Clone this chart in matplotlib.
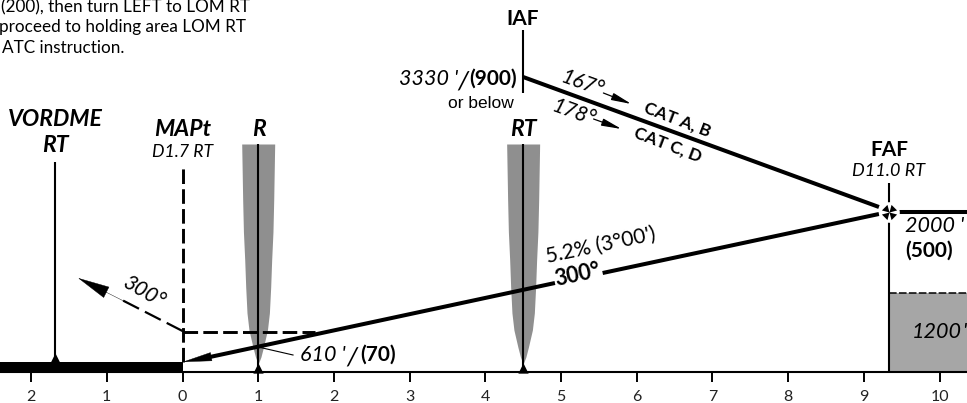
import numpy as np
import matplotlib
matplotlib.use("Agg")
import matplotlib.pyplot as plt
from matplotlib.path import Path
from matplotlib.transforms import Affine2D

W, H = 967, 403
NM_PX = 75.7
X0_PX = 182.5
BASE_PX = 372

# distance axis (NM from threshold), heights in chart units above the axis
tick_nm = [-2, -1, 0, 1, 2, 3, 4, 5, 6, 7, 8, 9, 10]
tick_labels = ["2", "1", "0", "1", "2", "3", "4", "5", "6", "7", "8", "9", "10"]

vordme_nm = -1.68
mapt_nm = 0.0
r_nm = 1.0
rt_nm = 4.5
faf_nm = 9.33
faf_h = 160
iaf_h = 295

initial_nm = [4.5, 9.2]
initial_h = [295, 165]
intermediate_nm = [9.46, 10.4]
intermediate_h = [160, 160]
glide_far_nm = [5.55, 9.2]
glide_far_h = [99, 158]
glide_near_nm = [4.92, 0.3]
glide_near_h = [89, 14]
glide_tip_nm = [0.5, 0.0]
glide_tip_h = [17, 10]

missed_level_nm = [0.0, 1.75]
missed_level_h = [40, 40]
missed_climb_nm = [0.0, -0.8]
missed_climb_h = [41, 72]
missed_tip_nm = [-0.7, -1.38]
missed_tip_h = [68, 94]

runway_nm = [-2.5, 0.0]
runway_top = [10, 10]

beam_h = [228, 172, 140, 112, 85, 59, 42, 25, 15, 8]
beam_half = [0.218, 0.205, 0.195, 0.178, 0.165, 0.148, 0.122, 0.07, 0.036, 0.0]

min_alt_nm = [9.33, 10.4]
min_alt_h = [79, 79]

leader_nm = [1.0, 1.46]
leader_h = [25, 17]

arrow_167_nm = [5.56, 5.93]
arrow_167_h = [279, 268]
arrow_178_nm = [5.43, 5.8]
arrow_178_h = [253, 243]

plt.rcParams['font.family'] = ['Lato', 'DejaVu Sans']

fig = plt.figure(figsize=(W / 100, H / 100), dpi=100)
ax = fig.add_axes([0, 0, 1, 1])
ax.set_xlim(-X0_PX / NM_PX, (W - X0_PX) / NM_PX)
ax.set_ylim(BASE_PX - H, BASE_PX)

# text placed in reference pixels, origin top left
px = Affine2D().scale(1 / W, -1 / H).translate(0, 1) + fig.transFigure

for s in ['top', 'left', 'right']:
    ax.spines[s].set_visible(False)
ax.spines['bottom'].set_position(('data', 0))
ax.spines['bottom'].set_linewidth(1.5)
ax.spines['bottom'].set_zorder(5)
ax.set_yticks([])
ax.set_xticks(tick_nm)
ax.set_xticklabels(tick_labels, fontsize=11.5, color='#222222')
ax.tick_params(axis='x', length=7, width=1.4, pad=6, color='k')
ax.patch.set_alpha(0)

# grey marker beams
for nm in [r_nm, rt_nm]:
    ax.fill_betweenx(beam_h, nm - np.array(beam_half), nm + np.array(beam_half),
                     color='#8f8f8f', lw=0, zorder=1)

# minimum altitude box
ax.fill_between(min_alt_nm, 0, min_alt_h, color='#a6a6a6', lw=0, zorder=1)
ax.plot(min_alt_nm, min_alt_h, color='k', lw=1.1, ls=(0, (5, 1.5)), zorder=2)

# runway
ax.fill_between(runway_nm, 0, runway_top, color='k', lw=0, zorder=3)

# fix verticals
thin = dict(color='k', lw=1.5, zorder=3, solid_capstyle='butt')
ax.plot([vordme_nm, vordme_nm], [10, 210], **thin)
ax.plot([r_nm, r_nm], [0, 228], **thin)
ax.plot([rt_nm, rt_nm], [0, 228], **thin)
ax.plot([rt_nm, rt_nm], [279, 342], **thin)
ax.plot([faf_nm, faf_nm], [0, 189], **thin)
ax.plot(leader_nm, leader_h, color='k', lw=0.8, zorder=3)

# station triangles
ax.scatter([vordme_nm], [14], marker='^', s=55, color='k', lw=0, zorder=4)
ax.scatter([r_nm, rt_nm], [4, 4], marker='^', s=55, color='k', lw=0, zorder=4)

# profile
thick = dict(color='k', lw=2.9, zorder=4, solid_capstyle='butt')
ax.plot(initial_nm, initial_h, **thick)
ax.plot(intermediate_nm, intermediate_h, **thick)
ax.plot(glide_far_nm, glide_far_h, **thick)
ax.plot(glide_near_nm, glide_near_h, **thick)
# thin edge on the heads, a thick one pulls the tip back from the target point
ax.annotate("", xy=(glide_tip_nm[1], glide_tip_h[1]), xytext=(glide_tip_nm[0], glide_tip_h[0]),
            arrowprops=dict(arrowstyle='-|>,head_length=2.0,head_width=0.3', color='k', lw=0.3,
                            shrinkA=0, shrinkB=0), zorder=5)

# missed approach
dash = dict(color='k', lw=2.1, zorder=4, ls=(0, (5, 1.8)))
ax.plot([mapt_nm, mapt_nm], [10, 208], **dash)
ax.plot(missed_level_nm, missed_level_h, **dash)
ax.plot(missed_climb_nm, missed_climb_h, color='k', lw=1.6, zorder=4, ls=(0, (8, 3)))
ax.annotate("", xy=(missed_tip_nm[1], missed_tip_h[1]), xytext=(missed_tip_nm[0], missed_tip_h[0]),
            arrowprops=dict(arrowstyle='-|>,head_length=2.2,head_width=0.42', color='k', lw=0.3,
                            shrinkA=0, shrinkB=0), zorder=5)

# small heading arrows
for xs, ys in [(arrow_167_nm, arrow_167_h), (arrow_178_nm, arrow_178_h)]:
    ax.annotate("", xy=(xs[1], ys[1]), xytext=(xs[0], ys[0]),
                arrowprops=dict(arrowstyle='-|>,head_length=1.2,head_width=0.22', color='k', lw=0.9,
                                shrinkA=0, shrinkB=0), zorder=5)

# FAF symbol: white disc with four wedges
ax.scatter([faf_nm], [faf_h], s=220, color='w', lw=0, zorder=6)
verts, codes = [], []
for a in [45, 135, 225, 315]:
    t = np.radians(a)
    for r, d in [(0.0, 0), (1.0, 30), (1.0, -30), (0.0, 0)]:
        verts.append((r * np.cos(t + np.radians(d)), r * np.sin(t + np.radians(d))))
    codes += [Path.MOVETO, Path.LINETO, Path.LINETO, Path.CLOSEPOLY]
ax.scatter([faf_nm], [faf_h], s=120, marker=Path(verts, codes), color='k', lw=0, zorder=7)


def txt(x, y, s, size=10, weight='normal', style='normal', ha='center', rot=0, **kw):
    ax.text(x, y, s, transform=px, fontsize=size, fontweight=weight, fontstyle=style, ha=ha, va='center',
            rotation=rot, rotation_mode='anchor', zorder=8, clip_on=True, **kw)


# procedure note
txt(250, 7, "(200), then turn LEFT to LOM RT", size=12.3, ha='right')
txt(246, 27, "proceed to holding area LOM RT", size=12.3, ha='right')
txt(2, 48, "ATC instruction.", size=12.3, ha='left')

txt(523, 19, "IAF", size=15, weight='bold')
txt(429, 79, "3330 '", size=15.5, style='italic')
txt(463, 81, "/", size=19, style='italic')
txt(493, 79, "(900)", size=15, weight='bold')
txt(481, 103, "or below", size=12.5, family='Liberation Sans')

txt(55, 120, "VORDME", size=16.6, weight='bold', style='italic')
txt(55, 145, "RT", size=16.6, weight='bold', style='italic')
txt(183, 130, "MAPt", size=16.6, weight='bold', style='italic')
txt(183, 152, "D1.7 RT", size=12.7, style='italic')
txt(259, 130, "R", size=16.6, weight='bold', style='italic')
txt(523, 130, "RT", size=16.6, weight='bold', style='italic')

txt(583, 84, "167°", size=15, style='italic', rot=-20)
txt(574, 113, "178°", size=15, style='italic', rot=-20)
txt(677, 120, "CAT A, B", size=12.5, weight='bold', rot=-21)
txt(668, 145, "CAT C, D", size=12.5, weight='bold', rot=-21)

txt(889, 150, "FAF", size=15, weight='bold')
txt(889, 171, "D11.0 RT", size=13, style='italic')
txt(905, 226, "2000 '", size=15.5, style='italic', ha='left')
txt(929, 251, "(500)", size=15, weight='bold')
txt(912, 332, "1200", size=15.5, style='italic', ha='left')
txt(962, 332, "'", size=15.5, style='italic', ha='left')

txt(601, 245, "5.2% (3°00')", size=15, rot=12)
txt(578, 275, "300°", size=15.5, weight='bold', rot=12)
txt(143, 292, "300°", size=15, style='italic', rot=-30)

txt(323, 355, "610 '", size=15.5, style='italic')
txt(352, 357, "/", size=19, style='italic')
txt(378, 355, "(70)", size=15, weight='bold')

fig.savefig("out.png", dpi=100)
